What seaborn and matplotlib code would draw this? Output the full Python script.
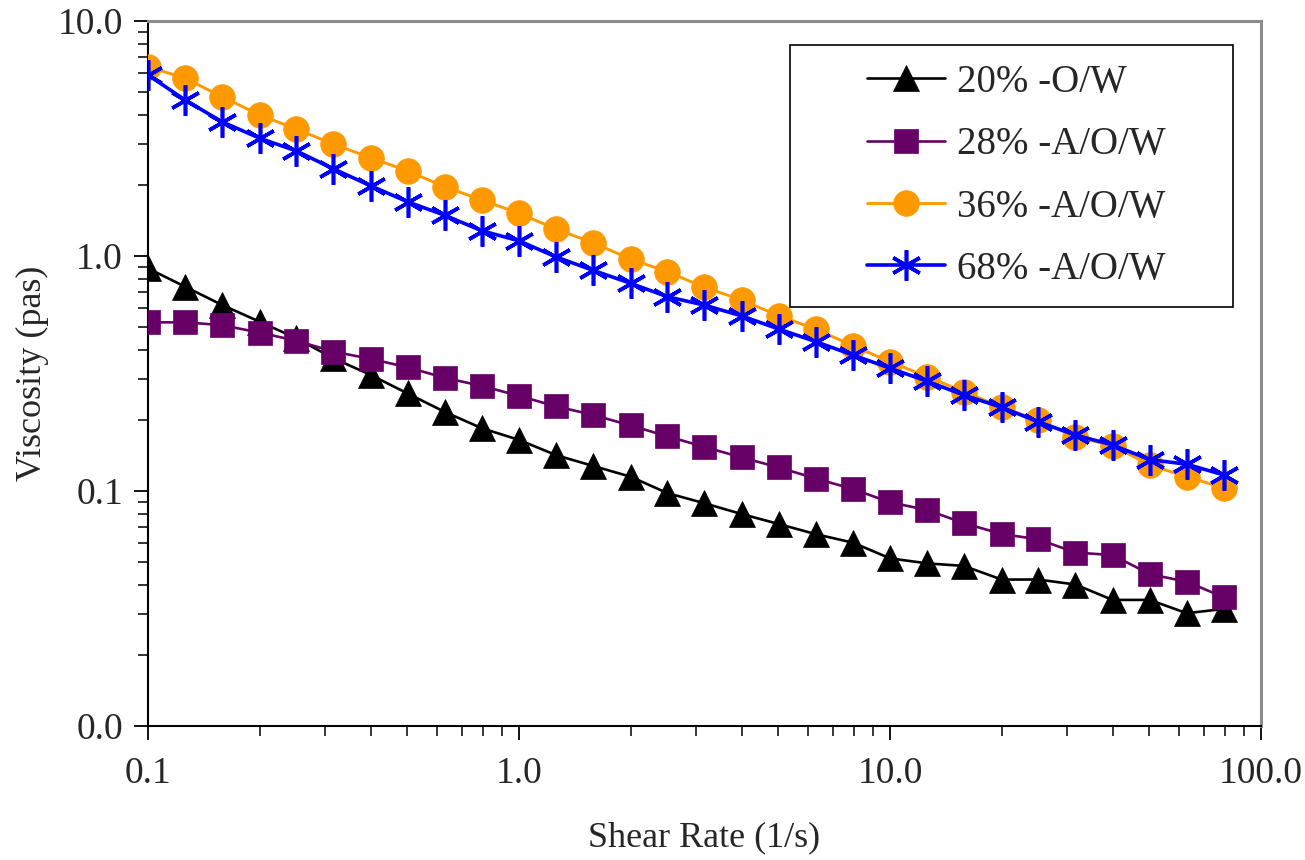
import numpy as np
import seaborn as sns
import matplotlib.pyplot as plt
from matplotlib.patches import Rectangle
from matplotlib.ticker import LogLocator, NullFormatter

# Shear rate steps (1/s), 10 per decade
shear_rate = [0.1, 0.126, 0.158, 0.2, 0.251, 0.316, 0.398, 0.501, 0.631, 0.794,
              1.0, 1.26, 1.58, 2.0, 2.51, 3.16, 3.98, 5.01, 6.31, 7.94,
              10.0, 12.6, 15.8, 20.0, 25.1, 31.6, 39.8, 50.1, 63.1, 79.4]

# Viscosity (pas)
visc_20_ow = [0.886, 0.74, 0.62, 0.525, 0.447, 0.367, 0.312, 0.26, 0.217, 0.185,
              0.165, 0.142, 0.128, 0.115, 0.098, 0.0887, 0.0798, 0.0724, 0.0655, 0.0603,
              0.0517, 0.0492, 0.048, 0.042, 0.042, 0.040, 0.0344, 0.0344, 0.0302, 0.0315]
visc_28_aow = [0.522, 0.522, 0.508, 0.472, 0.436, 0.392, 0.365, 0.336, 0.303, 0.28,
               0.254, 0.229, 0.211, 0.19, 0.171, 0.154, 0.139, 0.126, 0.113, 0.102,
               0.0895, 0.083, 0.073, 0.0656, 0.0623, 0.0547, 0.0534, 0.0443, 0.0411, 0.0353]
visc_36_aow = [6.39, 5.70, 4.77, 3.98, 3.47, 2.99, 2.62, 2.30, 1.97, 1.73,
               1.52, 1.30, 1.14, 0.97, 0.857, 0.736, 0.65, 0.557, 0.488, 0.415,
               0.355, 0.306, 0.265, 0.227, 0.200, 0.170, 0.156, 0.129, 0.115, 0.103]
visc_68_aow = [5.89, 4.61, 3.73, 3.17, 2.80, 2.35, 1.99, 1.70, 1.49, 1.28,
               1.16, 0.99, 0.87, 0.765, 0.671, 0.618, 0.556, 0.489, 0.432, 0.379,
               0.333, 0.293, 0.256, 0.227, 0.197, 0.173, 0.157, 0.136, 0.130, 0.117]

labels = ["20% -O/W", "28% -A/O/W", "36% -A/O/W", "68% -A/O/W"]
x_ticks = [0.1, 1, 10, 100]
x_tick_labels = ["0.1", "1.0", "10.0", "100.0"]
y_ticks = [0.01, 0.1, 1, 10]
y_tick_labels = ["0.0", "0.1", "1.0", "10.0"]

sns.set_style("ticks")
plt.rcParams['font.family'] = ['Liberation Serif', 'DejaVu Serif']

fig = plt.figure(figsize=(13.05, 8.6), dpi=100)
ax = fig.add_axes([0.1134, 0.1558, 0.8529, 0.8198])

# series styles: colour, marker, marker size, line width
styles = [
    ("black", "^", 18.5, 1.9),
    ("#660066", "s", 17, 1.9),
    ("#FF9900", "o", 18.5, 2.1),
    ("#0000FF", (6, 2, 0), 22, 2.6),
]
series = [visc_20_ow, visc_28_aow, visc_36_aow, visc_68_aow]

for vals, lab, (col, mk, ms, lw) in zip(series, labels, styles):
    sns.lineplot(x=shear_rate, y=vals, ax=ax, color=col, marker=mk,
                 markersize=ms, linewidth=lw, markeredgecolor=col,
                 markeredgewidth=2.6 if mk == (6, 2, 0) else 0.5,
                 label=lab, zorder=3)

ax.set_xscale("log")
ax.set_yscale("log")
ax.set_xlim(0.1, 100)
ax.set_ylim(0.01, 10)

ax.set_xticks(x_ticks, x_tick_labels)
ax.set_yticks(y_ticks, y_tick_labels)
ax.xaxis.set_minor_locator(LogLocator(base=10, subs=np.arange(2, 10)))
ax.yaxis.set_minor_locator(LogLocator(base=10, subs=np.arange(2, 10)))
ax.xaxis.set_minor_formatter(NullFormatter())
ax.yaxis.set_minor_formatter(NullFormatter())

ax.tick_params(axis="both", which="major", direction="out", length=10, width=1.3,
               labelsize=27, color="black", pad=8)
ax.tick_params(axis="both", which="minor", direction="out", length=7, width=1.1,
               color="black")
ax.tick_params(axis="x", which="major", pad=12)

for side in ["left", "bottom"]:
    ax.spines[side].set_color("black")
    ax.spines[side].set_linewidth(1.5)
for side in ["top", "right"]:
    ax.spines[side].set_visible(True)
    ax.spines[side].set_color("#8c8c8c")
    ax.spines[side].set_linewidth(2.2)

ax.set_xlabel("Shear Rate (1/s)", fontsize=26, labelpad=22)
ax.set_ylabel("Viscosity (pas)", fontsize=26, labelpad=6)

# legend box drawn separately so its horizontal padding can match
box = Rectangle((790 / 1305, 1 - 307 / 860), 443 / 1305, 262 / 860,
                transform=fig.transFigure, facecolor="white", edgecolor="black",
                linewidth=1.2, zorder=5, clip_on=False)
ax.add_patch(box)
leg = ax.legend(loc="center", bbox_to_anchor=((800 + 1233) / 2 / 1305, 1 - 176 / 860),
                bbox_transform=fig.transFigure, frameon=False, fontsize=28,
                handlelength=2.0, handletextpad=0.3, labelspacing=0.65)
leg.set_zorder(6)

plt.savefig("out.png", dpi=100)
